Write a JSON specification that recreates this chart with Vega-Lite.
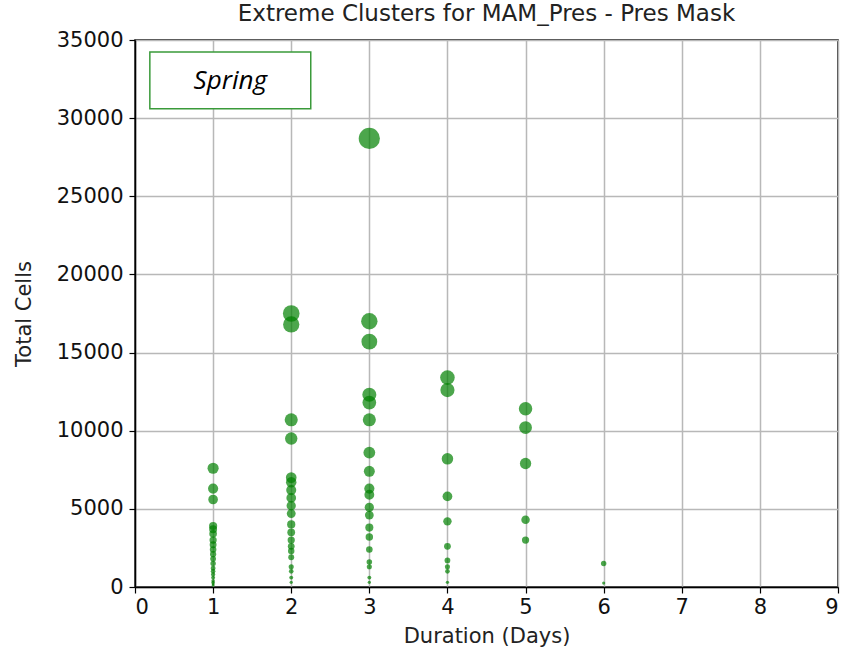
{
  "$schema": "https://vega.github.io/schema/vega-lite/v6.json",
  "autosize": "none",
  "width": 703,
  "height": 547,
  "padding": {"left": 135, "top": 40, "right": 3, "bottom": 70},
  "background": "white",
  "title": {"text": "Extreme Clusters for MAM_Pres - Pres Mask", "font": "DejaVu Sans", "fontSize": 23, "fontWeight": "normal", "color": "#222", "offset": 3, "anchor": "middle"},
  "config": {
    "view": {"stroke": "black", "strokeWidth": 1.5},
    "axis": {"labelFont": "DejaVu Sans", "titleFont": "DejaVu Sans", "labelFontSize": 21, "titleFontSize": 21, "titleFontWeight": "normal", "labelColor": "#111", "titleColor": "#222", "gridColor": "#b8b8b8", "gridWidth": 1.5, "domainColor": "black", "domainWidth": 1.5, "tickColor": "black", "tickSize": 6, "tickWidth": 1.2}
  },
  "datasets": {
    "clusters": [
      {"duration": 1, "cells": 7600}, {"duration": 1, "cells": 6300}, {"duration": 1, "cells": 5600}, {"duration": 1, "cells": 3900},
      {"duration": 1, "cells": 3700}, {"duration": 1, "cells": 3400}, {"duration": 1, "cells": 3000}, {"duration": 1, "cells": 2700},
      {"duration": 1, "cells": 2400}, {"duration": 1, "cells": 2100}, {"duration": 1, "cells": 1800}, {"duration": 1, "cells": 1500},
      {"duration": 1, "cells": 1200}, {"duration": 1, "cells": 1000}, {"duration": 1, "cells": 800}, {"duration": 1, "cells": 600},
      {"duration": 1, "cells": 400}, {"duration": 1, "cells": 300}, {"duration": 1, "cells": 200}, {"duration": 1, "cells": 100},
      {"duration": 2, "cells": 17500}, {"duration": 2, "cells": 16800}, {"duration": 2, "cells": 10700}, {"duration": 2, "cells": 9500},
      {"duration": 2, "cells": 7000}, {"duration": 2, "cells": 6700}, {"duration": 2, "cells": 6200}, {"duration": 2, "cells": 5700},
      {"duration": 2, "cells": 5200}, {"duration": 2, "cells": 4700}, {"duration": 2, "cells": 4000}, {"duration": 2, "cells": 3500},
      {"duration": 2, "cells": 3000}, {"duration": 2, "cells": 2600}, {"duration": 2, "cells": 2300}, {"duration": 2, "cells": 1900},
      {"duration": 2, "cells": 1300}, {"duration": 2, "cells": 1000}, {"duration": 2, "cells": 600}, {"duration": 2, "cells": 300},
      {"duration": 3, "cells": 28700}, {"duration": 3, "cells": 17000}, {"duration": 3, "cells": 15700}, {"duration": 3, "cells": 12300},
      {"duration": 3, "cells": 11800}, {"duration": 3, "cells": 10700}, {"duration": 3, "cells": 8600}, {"duration": 3, "cells": 7400},
      {"duration": 3, "cells": 6300}, {"duration": 3, "cells": 5900}, {"duration": 3, "cells": 5100}, {"duration": 3, "cells": 4600},
      {"duration": 3, "cells": 3800}, {"duration": 3, "cells": 3200}, {"duration": 3, "cells": 2400}, {"duration": 3, "cells": 1600},
      {"duration": 3, "cells": 1300}, {"duration": 3, "cells": 600}, {"duration": 3, "cells": 300},
      {"duration": 4, "cells": 13400}, {"duration": 4, "cells": 12600}, {"duration": 4, "cells": 8200}, {"duration": 4, "cells": 5800},
      {"duration": 4, "cells": 4200}, {"duration": 4, "cells": 2600}, {"duration": 4, "cells": 1700}, {"duration": 4, "cells": 1300},
      {"duration": 4, "cells": 1000}, {"duration": 4, "cells": 300},
      {"duration": 5, "cells": 11400}, {"duration": 5, "cells": 10200}, {"duration": 5, "cells": 7900}, {"duration": 5, "cells": 4300},
      {"duration": 5, "cells": 3000},
      {"duration": 6, "cells": 1500}, {"duration": 6, "cells": 250}
    ]
  },
  "layer": [
    {
      "data": {"name": "clusters"},
      "mark": {"type": "circle", "color": "green", "opacity": 0.7},
      "encoding": {
        "x": {"field": "duration", "type": "quantitative", "scale": {"domain": [0, 9], "nice": false}, "axis": {"title": "Duration (Days)", "values": [0, 1, 2, 3, 4, 5, 6, 7, 8, 9], "format": "d", "titlePadding": 8, "labelPadding": 3}},
        "y": {"field": "cells", "type": "quantitative", "scale": {"domain": [0, 35000], "nice": false}, "axis": {"title": "Total Cells", "values": [0, 5000, 10000, 15000, 20000, 25000, 30000, 35000], "format": "d", "titlePadding": 22, "labelPadding": 6}},
        "size": {"field": "cells", "type": "quantitative", "scale": {"type": "linear", "domain": [0, 30000], "range": [6, 470]}, "legend": null}
      }
    },
    {
      "data": {"values": [{"label": "Spring"}]},
      "mark": {"type": "rect", "fill": "white", "stroke": "#3a9a3a", "strokeWidth": 1.5},
      "encoding": {
        "x": {"datum": 0.19, "type": "quantitative"},
        "x2": {"datum": 2.25},
        "y": {"datum": 30600, "type": "quantitative"},
        "y2": {"datum": 34230}
      }
    },
    {
      "data": {"values": [{"label": "Spring"}]},
      "mark": {"type": "text", "font": "Open Sans", "fontStyle": "italic", "fontSize": 26, "color": "black", "align": "center", "baseline": "middle"},
      "encoding": {
        "x": {"datum": 1.22, "type": "quantitative"},
        "y": {"datum": 32400, "type": "quantitative"},
        "text": {"field": "label"}
      }
    }
  ]
}
